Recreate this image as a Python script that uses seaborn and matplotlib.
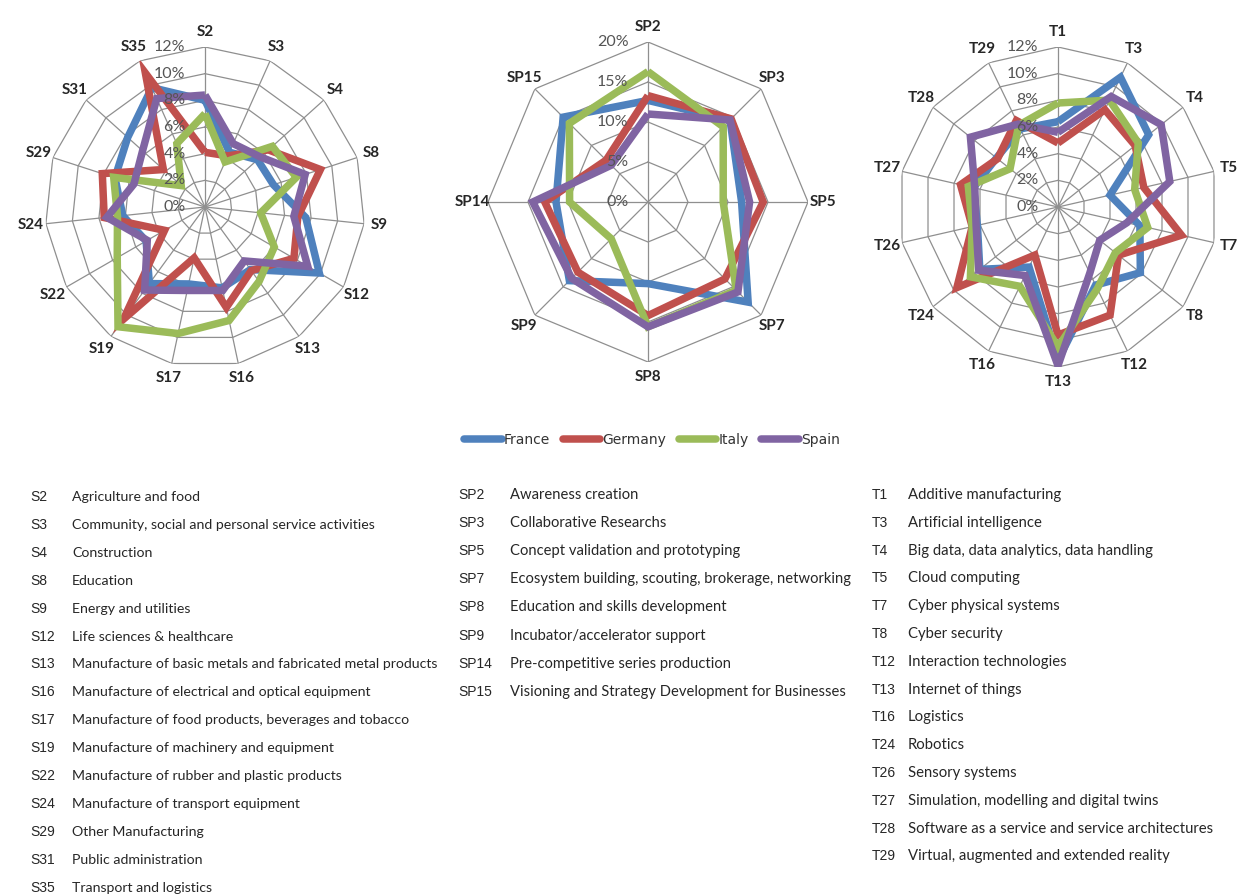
import numpy as np
import pandas as pd
import matplotlib
matplotlib.use("Agg")
import matplotlib.pyplot as plt
from matplotlib.lines import Line2D
import seaborn as sns

# ---------------------------------------------------------------- data
countries = ["France", "Germany", "Italy", "Spain"]
colors = ["#4F81BD", "#C0504D", "#9BBB59", "#8064A2"]

sector_codes = ["S2", "S3", "S4", "S8", "S9", "S12", "S13", "S16", "S17",
                "S19", "S22", "S24", "S29", "S31", "S35"]
sector_france = [8.0, 4.5, 5.3, 5.4, 7.6, 9.9, 5.8, 6.2, 5.9, 7.1, 5.1, 6.2, 7.1, 7.8, 9.8]
sector_germany = [4.1, 4.2, 6.4, 9.1, 7.0, 7.7, 5.9, 7.7, 3.9, 10.4, 3.5, 7.6, 8.1, 4.2, 11.0]
sector_italy = [7.0, 3.7, 6.8, 7.2, 4.2, 6.0, 6.9, 8.7, 9.7, 11.1, 7.6, 6.6, 7.2, 2.4, 5.2]
sector_spain = [8.4, 5.2, 5.6, 7.9, 6.7, 8.9, 5.0, 6.4, 6.4, 7.7, 5.0, 7.4, 5.6, 6.3, 8.9]

service_codes = ["SP2", "SP3", "SP5", "SP7", "SP8", "SP9", "SP14", "SP15"]
service_france = [12.7, 14.5, 11.7, 17.7, 10.2, 13.9, 11.5, 15.0]
service_germany = [13.3, 14.7, 14.4, 13.6, 14.2, 12.4, 12.9, 7.4]
service_italy = [16.3, 13.3, 9.4, 15.6, 15.6, 6.5, 9.8, 13.9]
service_spain = [11.0, 14.5, 12.7, 15.9, 15.6, 13.5, 14.4, 6.5]

tech_codes = ["T1", "T3", "T4", "T5", "T7", "T8", "T12", "T13", "T16",
              "T24", "T26", "T27", "T28", "T29"]
tech_france = [6.4, 10.8, 8.7, 4.0, 6.3, 7.9, 6.5, 11.5, 5.0, 7.5, 6.2, 6.5, 5.9, 6.5]
tech_germany = [4.8, 8.1, 7.4, 6.6, 9.5, 5.8, 9.0, 9.6, 4.0, 9.7, 6.6, 7.5, 5.8, 7.2]
tech_italy = [7.8, 8.9, 7.7, 5.9, 6.9, 5.5, 6.8, 10.5, 6.6, 8.4, 6.6, 6.9, 4.6, 6.8]
tech_spain = [5.6, 9.2, 9.9, 8.6, 5.3, 4.0, 5.5, 11.9, 5.7, 7.6, 6.3, 6.4, 8.4, 6.9]

sector_ticks = [0, 2, 4, 6, 8, 10, 12]
service_ticks = [0, 5, 10, 15, 20]
tech_ticks = [0, 2, 4, 6, 8, 10, 12]

sector_names = [
    "Agriculture and food",
    "Community, social and personal service activities",
    "Construction",
    "Education",
    "Energy and utilities",
    "Life sciences & healthcare",
    "Manufacture of basic metals and fabricated metal products",
    "Manufacture of electrical and optical equipment",
    "Manufacture of food products, beverages and tobacco",
    "Manufacture of machinery and equipment",
    "Manufacture of rubber and plastic products",
    "Manufacture of transport equipment",
    "Other Manufacturing",
    "Public administration",
    "Transport and logistics",
]
service_names = [
    "Awareness creation",
    "Collaborative Researchs",
    "Concept validation and prototyping",
    "Ecosystem building, scouting, brokerage, networking",
    "Education and skills development",
    "Incubator/accelerator support",
    "Pre-competitive series production",
    "Visioning and Strategy Development for Businesses",
]
tech_names = [
    "Additive manufacturing",
    "Artificial intelligence",
    "Big data, data analytics, data handling",
    "Cloud computing",
    "Cyber physical systems",
    "Cyber security",
    "Interaction technologies",
    "Internet of things",
    "Logistics",
    "Robotics",
    "Sensory systems",
    "Simulation, modelling and digital twins",
    "Software as a service and service architectures",
    "Virtual, augmented and extended reality",
]

# ---------------------------------------------------------------- style
sns.set_theme(style="white")
plt.rcParams["font.family"] = ["Lato", "DejaVu Sans"]

W, H = 1239, 896
fig = plt.figure(figsize=(W / 100, H / 100), dpi=100)
fig.patch.set_facecolor("white")

GRID = "#8f8f8f"
TXT = "#262626"
LW = 5.4
palette = dict(zip(countries, colors))


def long_frame(codes, series):
    n = len(codes)
    rows = []
    for name, vals in zip(countries, series):
        for i in range(n + 1):
            rows.append({"country": name,
                         "theta": 2 * np.pi * i / n,
                         "share": vals[i % n]})
    return pd.DataFrame(rows)


def radar(cx, cy, radius, codes, series, ticks):
    rect = [(cx - radius) / W, 1 - (cy + radius) / H, 2 * radius / W, 2 * radius / H]
    ax = fig.add_axes(rect, projection="polar")
    ax.set_theta_zero_location("N")
    ax.set_theta_direction(-1)
    ax.patch.set_visible(False)
    ax.spines["polar"].set_visible(False)
    ax.grid(False)
    ax.set_xticks([])
    ax.set_yticks([])
    rmax = ticks[-1]
    ax.set_ylim(0, rmax)

    n = len(codes)
    th = 2 * np.pi * np.arange(n + 1) / n
    # polygonal web
    for t in ticks[1:]:
        ax.plot(th, [t] * (n + 1), color=GRID, lw=0.9, zorder=1)
    for a in th[:-1]:
        ax.plot([a, a], [0, rmax], color=GRID, lw=0.9, zorder=1)

    df = long_frame(codes, series)
    sns.lineplot(data=df, x="theta", y="share", hue="country", palette=palette,
                 hue_order=countries, sort=False, estimator=None, lw=LW,
                 legend=False, ax=ax, zorder=3, solid_joinstyle="miter",
                 solid_capstyle="butt")
    ax.set_xlabel("")
    ax.set_ylabel("")

    for a, code in zip(th[:-1], codes):
        ax.text(a, rmax * 1.095, code, ha="center", va="center",
                fontsize=11, fontweight="bold", color=TXT, zorder=5)
    for t in ticks:
        ax.annotate(f"{t}%", xy=(0, t), xytext=(-14, 0), textcoords="offset points",
                    ha="right", va="center", fontsize=11.5, color="#555555",
                    zorder=6, annotation_clip=False)
    return ax


radar(205, 207, 160, sector_codes,
      [sector_france, sector_germany, sector_italy, sector_spain], sector_ticks)
radar(648, 202, 160, service_codes,
      [service_france, service_germany, service_italy, service_spain], service_ticks)
radar(1058, 207, 160, tech_codes,
      [tech_france, tech_germany, tech_italy, tech_spain], tech_ticks)

# legend
handles = [Line2D([], [], color=c, lw=LW, solid_capstyle="round") for c in colors]
fig.legend(handles, countries, loc="center", bbox_to_anchor=(652 / W, 1 - 440 / H),
           ncol=4, frameon=False, handlelength=2.7, handletextpad=0.15,
           columnspacing=0.9, prop={"family": "DejaVu Sans", "size": 10},
           labelcolor="#333333")


# code / description lists
def code_list(x_code, x_name, y0, dy, codes, names, size):
    for i, (c, nme) in enumerate(zip(codes, names)):
        y = 1 - (y0 + i * dy) / H
        fig.text(x_code / W, y, c, ha="left", va="center", fontsize=10,
                 family="Liberation Sans", color=TXT)
        fig.text(x_name / W, y, nme, ha="left", va="center", fontsize=size,
                 family="Lato", color=TXT)


code_list(30, 72, 497, 27.9, sector_codes, sector_names, 10.2)
code_list(458, 510, 495, 28.1, service_codes, service_names, 10.6)
code_list(872, 908, 495, 27.8, tech_codes, tech_names, 10.7)

fig.savefig("out.png", dpi=100, facecolor="white")
